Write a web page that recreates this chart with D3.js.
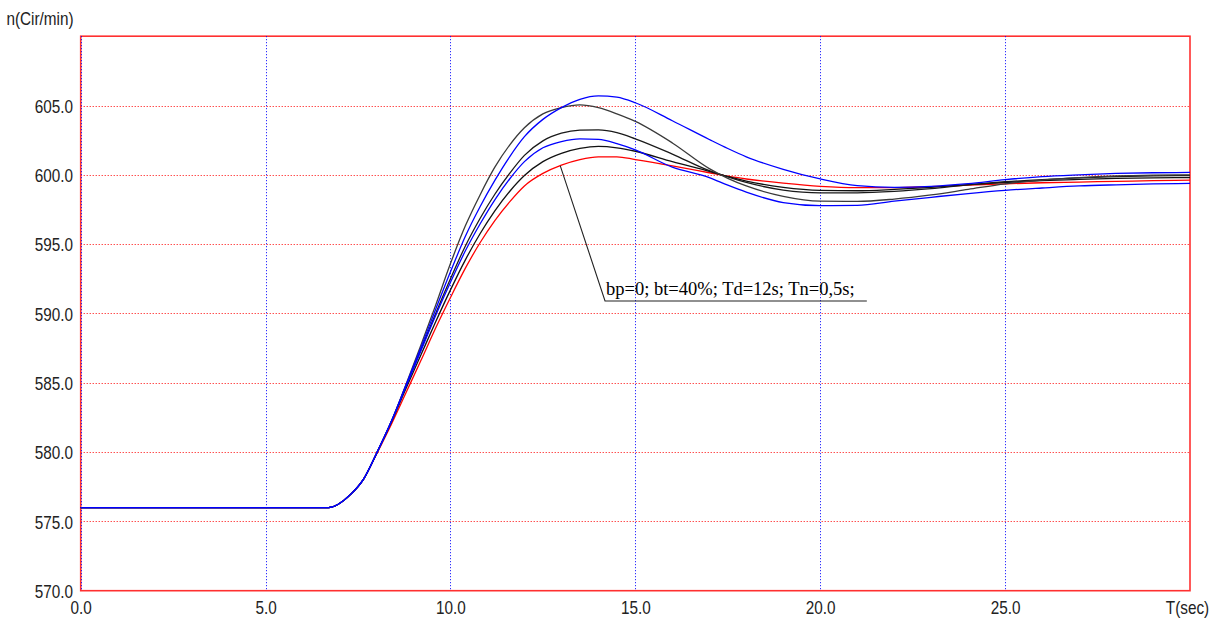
<!DOCTYPE html>
<html>
<head>
<meta charset="utf-8">
<script src="https://cdn.jsdelivr.net/npm/d3@7"></script>
<style>
  html, body { margin: 0; padding: 0; background: #ffffff; }
  svg { display: block; }
</style>
</head>
<body>
<svg id="chart" width="1220" height="619"></svg>
<script>
// ---- data ----
const time = [0, 6.7, 7.3, 7.65, 8.0, 8.4, 8.8, 9.2, 9.6, 10.0, 10.4, 10.8, 11.2, 11.6, 12.0, 12.5, 13.0, 13.5, 14.0, 14.5, 15.0, 16.0, 17.0, 17.5, 18.0, 19.0, 20.0, 21.0, 22.0, 23.0, 24.0, 25.0, 26.0, 27.0, 28.0, 29.0, 30.0];

const redSeries    = [576, 576, 576.95, 578.05, 579.85, 582.0, 584.3, 586.6, 588.95, 591.15, 593.25, 595.1, 596.7, 598.05, 599.2, 600.1, 600.7, 601.1, 601.3, 601.3, 601.1, 600.65, 600.15, 599.9, 599.7, 599.4, 599.17, 599.07, 599.07, 599.15, 599.25, 599.35, 599.43, 599.48, 599.53, 599.58, 599.62];
const black1Series = [576, 576, 576.95, 578.05, 579.9, 582.2, 584.9, 587.7, 590.6, 593.6, 596.3, 598.55, 600.55, 602.15, 603.4, 604.4, 604.85, 605.05, 604.85, 604.4, 603.85, 602.3, 600.45, 599.75, 599.2, 598.45, 598.1, 598.08, 598.25, 598.55, 598.95, 599.35, 599.62, 599.8, 599.92, 599.98, 600.0];
const black2Series = [576, 576, 576.95, 578.05, 579.9, 582.2, 584.8, 587.4, 590.0, 592.5, 594.85, 596.85, 598.6, 600.1, 601.4, 602.45, 603.0, 603.22, 603.24, 603.05, 602.6, 601.5, 600.3, 599.85, 599.45, 598.9, 598.7, 598.7, 598.8, 599.0, 599.28, 599.5, 599.66, 599.78, 599.87, 599.92, 599.95];
const black3Series = [576, 576, 576.95, 578.05, 579.9, 582.15, 584.6, 587.0, 589.4, 591.7, 593.85, 595.75, 597.4, 598.8, 599.95, 600.95, 601.55, 601.9, 602.05, 601.95, 601.7, 600.95, 600.25, 599.88, 599.55, 599.1, 598.88, 598.85, 598.95, 599.1, 599.3, 599.45, 599.58, 599.67, 599.74, 599.78, 599.8];
const blue1Series  = [576, 576, 576.95, 578.05, 579.9, 582.2, 584.85, 587.55, 590.3, 593.0, 595.55, 597.7, 599.6, 601.3, 602.75, 604.0, 604.85, 605.45, 605.7, 605.6, 605.2, 603.9, 602.55, 601.9, 601.3, 600.4, 599.7, 599.22, 599.1, 599.17, 599.36, 599.65, 599.87, 600.0, 600.1, 600.15, 600.17];
const blue2Series  = [576, 576, 576.95, 578.05, 579.9, 582.2, 584.75, 587.3, 589.85, 592.25, 594.5, 596.45, 598.2, 599.7, 600.95, 601.95, 602.4, 602.6, 602.55, 602.25, 601.8, 600.55, 599.8, 599.25, 598.75, 598.0, 597.78, 597.8, 598.1, 598.38, 598.65, 598.88, 599.05, 599.2, 599.28, 599.34, 599.38];

const seriesNames  = ["red", "black3", "black2", "black1", "blue2", "blue1"];
const seriesColors = ["#ff0000", "#111111", "#1a1a1a", "#3a3a3a", "#0000ff", "#0000ff"];
const seriesValues = [redSeries, black3Series, black2Series, black1Series, blue2Series, blue1Series];

const xTicks = [0, 5, 10, 15, 20, 25, 30];
const yTicks = [570, 575, 580, 585, 590, 595, 600, 605];
const xGrid  = [0, 5, 10, 15, 20, 25];
const yGrid  = [575, 580, 585, 590, 595, 600, 605];

const yTitle = "n(Cir/min)";
const xTitle = "T(sec)";
const noteText = "bp=0; bt=40%; Td=12s; Tn=0,5s;";
const notePoint = [12.97, 600.65];   // point on the red curve
const noteElbow = [14.18, 590.9];    // start of the underline
const noteEnd   = [21.26, 590.9];    // end of the underline
const noteBase  = 591.35;            // text baseline (data units)

// ---- drawing ----
const svg = d3.select("#chart");
const x = d3.scaleLinear().domain([0, 30]).range([80.7, 1190]);
const y = d3.scaleLinear().domain([570, 610]).range([590.7, 36.2]);
const SX = 0.85;

// plot background
svg.append("rect")
  .attr("x", x(0)).attr("y", y(610))
  .attr("width", x(30) - x(0)).attr("height", y(570) - y(610))
  .attr("fill", "#ffffff");

// horizontal grid (red dotted)
svg.append("g").selectAll("line").data(yGrid).join("line")
  .attr("x1", x(0)).attr("x2", x(30))
  .attr("y1", d => Math.round(y(d)) + 0.5).attr("y2", d => Math.round(y(d)) + 0.5)
  .attr("stroke", "#ff0000").attr("stroke-width", 1)
  .attr("stroke-dasharray", "1,2");

// frame (red)
svg.append("rect")
  .attr("x", x(0)).attr("y", y(610))
  .attr("width", x(30) - x(0)).attr("height", y(570) - y(610))
  .attr("fill", "none").attr("stroke", "#ff3030").attr("stroke-width", 1.6);

// vertical grid (blue dotted)
svg.append("g").selectAll("line").data(xGrid).join("line")
  .attr("x1", d => Math.round(x(d)) + 0.5).attr("x2", d => Math.round(x(d)) + 0.5)
  .attr("y1", y(610)).attr("y2", y(570))
  .attr("stroke", "#0000ff").attr("stroke-width", 1)
  .attr("stroke-dasharray", "1,2");

// curves
const line = d3.line()
  .x((d, i) => x(time[i]))
  .y(d => y(d))
  .curve(d3.curveMonotoneX);

svg.append("g").selectAll("path").data(seriesValues).join("path")
  .attr("d", d => line(d))
  .attr("fill", "none")
  .attr("stroke", (d, i) => seriesColors[i])
  .attr("stroke-width", 1.3);

// annotation
svg.append("polyline")
  .attr("points", [notePoint, noteElbow, noteEnd].map(p => x(p[0]) + "," + y(p[1])).join(" "))
  .attr("fill", "none").attr("stroke", "#222").attr("stroke-width", 1.1);

svg.append("text")
  .attr("x", x(noteElbow[0]) + 1).attr("y", y(noteBase))
  .attr("font-family", "'Liberation Serif', 'Times New Roman', serif")
  .attr("font-size", 18.5).attr("fill", "#000")
  .text(noteText);

// axes
const fontFam = "'Liberation Sans', Arial, sans-serif";
const yAxis = svg.append("g")
  .attr("transform", `translate(${x(0)},0)`)
  .call(d3.axisLeft(y).tickValues(yTicks).tickSize(0).tickPadding(8).tickFormat(d3.format(".1f")));
yAxis.select(".domain").remove();
yAxis.selectAll("text")
  .attr("font-family", fontFam).attr("font-size", 18).attr("fill", "#222")
  .attr("x", -7.7 / SX).attr("dy", "0.38em")
  .attr("transform", `scale(${SX},1)`);

const xAxis = svg.append("g")
  .attr("transform", `translate(0,${y(570)})`)
  .call(d3.axisBottom(x).tickValues(xTicks).tickSize(0).tickPadding(11)
    .tickFormat(d => d === 30 ? xTitle : d3.format(".1f")(d)));
xAxis.select(".domain").remove();
xAxis.selectAll(".tick").each(function(d) {
  const g = d3.select(this);
  const t = g.select("text");
  t.attr("font-family", fontFam).attr("font-size", 18).attr("fill", "#222")
   .attr("transform", `scale(${SX},1)`);
  if (d === 30) t.attr("x", -3 / SX);
});

// y title
svg.append("text")
  .attr("x", 73.5 / SX).attr("y", 25)
  .attr("transform", `scale(${SX},1)`)
  .attr("text-anchor", "end")
  .attr("font-family", fontFam).attr("font-size", 18).attr("fill", "#222")
  .text(yTitle);
</script>
</body>
</html>
